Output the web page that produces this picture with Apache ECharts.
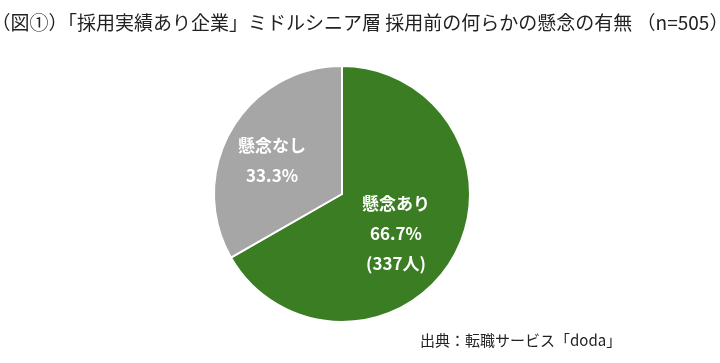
<!DOCTYPE html>
<html><head><meta charset="utf-8">
<script src="https://cdn.jsdelivr.net/npm/echarts@6/dist/echarts.min.js"></script>
<style>html,body{margin:0;padding:0;background:#fff}#c{width:720px;height:363px}</style>
</head><body><div id="c"></div>
<script>
const titleText = '（図①）「採用実績あり企業」ミドルシニア層 採用前の何らかの懸念の有無 （n=505）';
const sourceText = '出典：転職サービス「doda」';
const categories = ['懸念あり', '懸念なし'];
const values = [337, 168];
const percents = ['66.7%', '33.3%'];
const counts = ['(337人)', ''];
const colors = ['#3b7d23', '#a6a6a6'];

const chart = echarts.init(document.getElementById('c'), null, {renderer: 'canvas'});
chart.setOption({
  backgroundColor: '#fff',
  animation: false,
  title: [{
    text: titleText, left: 'center', top: 8,
    textStyle: {fontFamily: 'Noto Sans CJK JP', fontSize: 19, fontWeight: 'normal', color: '#222'}
  }, {
    text: sourceText, left: 415, top: 328,
    textStyle: {fontFamily: 'Noto Sans CJK JP', fontSize: 15, fontWeight: 'normal', color: '#222'}
  }],
  series: [{
    type: 'pie',
    center: [342, 194],
    radius: [0, 128],
    startAngle: 90,
    clockwise: true,
    itemStyle: {borderColor: '#fff', borderWidth: 2},
    label: {
      show: true, position: 'inside', color: '#fff',
      fontFamily: 'Noto Sans CJK JP', fontWeight: 'bold', fontSize: 17, lineHeight: 30,
      formatter: p => {
        const i = p.dataIndex;
        return [p.name, percents[i], counts[i]].filter(s => s).join('\n');
      }
    },
    labelLine: {show: false},
    data: categories.map((c, i) => ({
      name: c, value: values[i], itemStyle: {color: colors[i]},
      label: i === 1 ? {offset: [-12, 0]} : {offset: [-4, 6]}
    }))
  }]
});
</script></body></html>
